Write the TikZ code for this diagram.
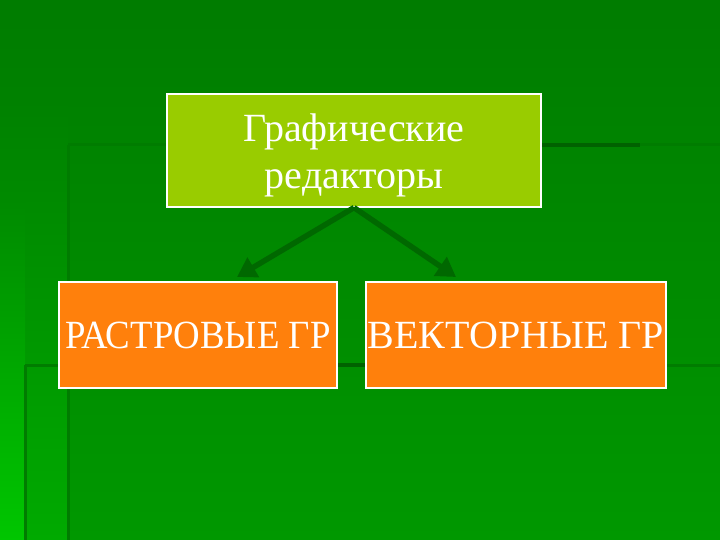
\documentclass[tikz,border=0pt]{standalone}
\usepackage{fontspec}
\setmainfont{Liberation Serif}
\usepackage{tikz}
\usetikzlibrary{arrows.meta,positioning}
\definecolor{bgtop}{RGB}{0,124,0}
\definecolor{bgbot}{RGB}{0,152,0}
\definecolor{striptop}{RGB}{0,129,0}
\definecolor{stripbot}{RGB}{0,170,0}
\definecolor{edgetop}{RGB}{0,138,0}
\definecolor{edgebot}{RGB}{0,198,0}
\definecolor{tmpl}{RGB}{0,124,0}
\definecolor{tmpldark}{RGB}{0,98,0}
\definecolor{arrowgreen}{RGB}{0,104,0}
\definecolor{limebox}{RGB}{153,204,0}
\definecolor{orangebox}{RGB}{255,128,12}
\tikzset{
  editorbox/.style={draw=white,line width=1.2pt,fill=limebox,text=white,minimum width=374pt,minimum height=113pt,inner sep=0pt,align=center,font=\fontsize{40}{47}\selectfont},
  kindbox/.style={draw=white,line width=1.2pt,fill=orangebox,text=white,minimum height=106pt,inner sep=0pt,font=\fontsize{40}{44}\selectfont},
  branch/.style={arrowgreen,line width=5.5pt,-{Triangle[width=22pt,length=19pt]}}
}
\begin{document}
\begin{tikzpicture}[x=1pt,y=-1pt]
%background and template lines
\useasboundingbox (0,0) rectangle (720,540);
\shade[top color=bgtop,bottom color=bgbot] (0,0) rectangle (720,540);
\shade[top color=striptop,bottom color=stripbot] (0,100) rectangle (68,540);
\shade[top color=edgetop,bottom color=edgebot] (0,200) rectangle (25,540);
\draw[tmpl,line width=3pt] (68,145) -- (720,145); \draw[tmpl,line width=3pt] (68,145) -- (68,540);
\draw[tmpl,line width=3pt] (25,365) -- (720,365); \draw[tmpl,line width=3pt] (25,365) -- (25,540);
\draw[tmpldark,line width=4pt] (541,145) -- (640,145); \draw[tmpldark,line width=4pt] (337,365) -- (366,365);
%boxes
\node[editorbox] (editors) at (354,150.5) {\raisebox{-5pt}[\height][\depth]{\begin{tabular}{@{}c@{}}Графические\\редакторы\end{tabular}}};
\node[kindbox,minimum width=278pt] (raster) at (198,335) {\scalebox{.92}[1]{РАСТРОВЫЕ ГР}};
\node[kindbox,minimum width=300pt] (vector) at (516,335) {ВЕКТОРНЫЕ ГР};
%arrows
\coordinate (rastertip) at (237,277); \coordinate (vectortip) at (456,277);
\draw[branch] (editors.south) -- (rastertip);
\draw[branch] (editors.south) -- (vectortip);
\end{tikzpicture}
\end{document}
